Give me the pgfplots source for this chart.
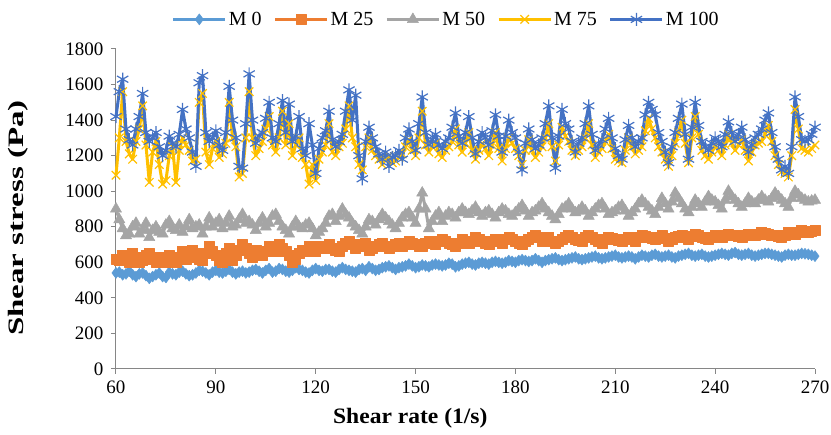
\documentclass[border=0pt]{standalone}
\usepackage{graphicx}
\usepackage{pgfplots}
\usepackage{pgfplotstable}
\pgfplotsset{compat=1.18}
\usepackage{fontspec}
\setmainfont{Liberation Serif}
\definecolor{cA}{HTML}{5B9BD5}
\definecolor{cB}{HTML}{ED7D31}
\definecolor{cC}{HTML}{A5A5A5}
\definecolor{cD}{HTML}{FFC000}
\definecolor{cE}{HTML}{4472C4}
\definecolor{axgray}{HTML}{868686}
\pgfplotstableread{
x m0 m25 m50 m75 m100
60 540 620 900 1090 1420
61 545 610 840 1300 1560
62 530 640 790 1560 1630
63 535 620 750 1280 1350
64 550 600 760 1210 1290
65 530 650 800 1180 1260
66 520 630 820 1280 1350
67 535 600 760 1350 1420
68 540 610 780 1480 1550
69 525 640 820 1260 1330
70 510 650 740 1050 1280
71 520 620 780 1220 1300
72 530 600 800 1280 1330
73 540 630 770 1150 1250
74 520 620 760 1040 1200
75 515 600 810 1060 1230
76 545 640 830 1200 1310
77 535 610 790 1250 1270
78 530 600 780 1050 1250
79 545 630 810 1230 1320
80 550 660 770 1300 1460
81 535 620 800 1260 1350
82 525 630 840 1230 1300
83 530 670 790 1170 1220
84 540 650 800 1180 1140
85 555 620 810 1500 1610
86 550 610 760 1550 1650
87 540 650 800 1220 1330
88 530 690 850 1150 1280
89 545 660 800 1240 1300
90 555 640 820 1280 1340
91 545 610 840 1190 1260
92 540 600 790 1210 1230
93 550 650 820 1270 1330
94 560 680 860 1500 1590
95 545 610 800 1300 1400
96 535 640 810 1250 1300
97 545 670 840 1080 1140
98 550 700 870 1100 1130
99 540 680 820 1300 1380
100 545 650 830 1560 1660
101 555 630 810 1300 1400
102 560 670 780 1200 1270
103 550 660 820 1240 1310
104 540 640 850 1280 1330
105 555 660 800 1350 1410
106 565 690 820 1420 1500
107 545 670 860 1260 1300
108 550 660 870 1220 1280
109 565 700 830 1300 1380
110 560 680 800 1450 1510
111 550 660 780 1260 1330
112 545 640 760 1380 1490
113 555 600 800 1200 1280
114 570 620 830 1260 1310
115 560 650 800 1300 1420
116 555 670 790 1190 1240
117 545 660 810 1150 1200
118 540 690 820 1040 1380
119 555 670 790 1150 1260
120 565 660 750 1060 1100
121 555 690 770 1180 1240
122 550 680 790 1220 1300
123 560 690 820 1260 1340
124 560 700 860 1380 1450
125 550 680 870 1220 1290
126 545 670 830 1200 1250
127 560 660 860 1250 1280
128 570 690 900 1270 1320
129 560 710 870 1350 1450
130 555 720 850 1480 1570
131 550 700 820 1300 1400
132 545 680 800 1250 1540
133 560 690 780 1150 1200
134 565 700 760 1120 1070
135 555 710 800 1250 1280
136 575 670 840 1300 1360
137 565 680 830 1230 1300
138 555 690 810 1200 1250
139 560 700 840 1180 1210
140 570 710 870 1150 1180
141 575 690 850 1180 1220
142 580 680 830 1200 1140
143 570 690 810 1160 1190
144 560 700 790 1170 1200
145 570 710 820 1190 1230
146 575 690 850 1210 1180
147 580 700 870 1250 1300
148 590 720 880 1290 1350
149 580 710 850 1230 1280
150 570 700 820 1200 1230
151 575 690 900 1300 1380
152 585 690 990 1450 1530
153 580 710 900 1260 1330
154 575 720 790 1220 1260
155 585 710 830 1250 1290
156 590 700 860 1270 1320
157 585 720 880 1210 1260
158 580 730 830 1190 1240
159 585 720 860 1230 1280
160 595 710 880 1250 1300
161 590 700 870 1280 1360
162 575 690 850 1350 1440
163 580 710 880 1260 1310
164 590 730 900 1220 1270
165 595 720 880 1270 1330
166 600 710 870 1330 1420
167 590 720 890 1230 1300
168 585 740 910 1180 1210
169 595 730 880 1230 1280
170 600 720 860 1270 1330
171 595 710 880 1240 1300
172 590 700 890 1200 1260
173 600 720 870 1260 1340
174 605 730 850 1330 1430
175 600 720 880 1240 1310
176 595 710 900 1170 1220
177 600 730 890 1240 1310
178 610 740 870 1300 1400
179 605 730 860 1270 1330
180 600 720 880 1240 1300
181 610 710 900 1200 1220
182 615 700 920 1150 1120
183 610 720 890 1230 1270
184 605 730 860 1290 1350
185 610 740 880 1230 1290
186 620 750 890 1190 1240
187 610 740 910 1220 1260
188 600 720 930 1250 1300
189 610 730 900 1300 1380
190 615 740 880 1380 1480
191 620 720 860 1250 1300
192 625 710 840 1170 1130
193 615 720 870 1260 1310
194 610 730 900 1360 1460
195 615 740 910 1310 1380
196 620 750 930 1280 1350
197 625 740 900 1230 1280
198 630 730 880 1200 1220
199 620 725 890 1230 1270
200 615 720 910 1250 1300
201 620 740 890 1300 1380
202 625 750 860 1380 1480
203 630 740 880 1260 1320
204 635 730 900 1190 1230
205 625 720 920 1220 1260
206 620 710 930 1240 1290
207 625 730 900 1280 1350
208 630 740 870 1320 1410
209 635 735 880 1240 1300
210 640 730 890 1180 1240
211 630 725 910 1170 1200
212 625 720 920 1160 1180
213 630 730 890 1230 1290
214 635 740 860 1300 1370
215 630 730 880 1250 1300
216 620 720 900 1210 1250
217 630 740 930 1230 1280
218 640 750 950 1250 1300
219 635 745 930 1340 1430
220 630 740 910 1410 1500
221 640 735 890 1350 1460
222 645 730 870 1300 1430
223 635 740 910 1250 1330
224 630 750 960 1220 1280
225 635 735 930 1180 1220
226 640 720 900 1140 1160
227 630 730 940 1200 1250
228 625 740 990 1270 1330
229 635 745 960 1330 1410
230 640 750 930 1400 1490
231 645 740 900 1270 1320
232 650 730 880 1160 1180
233 640 745 910 1300 1360
234 635 760 950 1420 1500
235 640 750 930 1320 1370
236 645 740 910 1230 1280
237 635 735 940 1200 1250
238 630 730 970 1180 1230
239 635 740 950 1220 1270
240 640 750 940 1260 1300
241 645 745 920 1230 1280
242 650 740 900 1200 1250
243 645 750 950 1260 1320
244 640 760 1000 1320 1390
245 650 755 970 1270 1330
246 655 750 950 1230 1280
247 645 745 930 1260 1320
248 640 740 910 1290 1360
249 645 750 930 1230 1290
250 650 760 960 1170 1220
251 640 755 940 1220 1260
252 635 750 930 1260 1300
253 640 760 950 1270 1320
254 645 770 970 1280 1350
255 650 765 950 1320 1400
256 650 760 940 1370 1440
257 645 755 960 1280 1330
258 640 750 990 1200 1250
259 635 745 970 1150 1180
260 630 740 950 1110 1120
261 640 755 930 1100 1140
262 645 770 910 1080 1100
263 640 765 960 1200 1250
264 640 760 1000 1460 1530
265 645 770 980 1350 1420
266 650 780 960 1240 1290
267 648 775 950 1230 1280
268 645 770 940 1220 1290
269 640 775 945 1240 1320
270 635 780 950 1260 1360
}\datatable
\begin{document}
\begin{tikzpicture}
\path[use as bounding box] (0,0) rectangle (831pt,435pt);
\begin{axis}[
  at={(116pt,66pt)}, anchor=south west,
  scale only axis, width=699pt, height=320pt,
  xmin=60, xmax=270, ymin=0, ymax=1800,
  xtick={60,90,...,270}, ytick={0,200,...,1800},
  axis x line=bottom, axis y line=left,
  axis line style={axgray, line width=1pt, -},
  tick style={axgray, line width=1pt},
  tick align=outside, major tick length=5pt,
  /pgf/number format/assume math mode=true,
  /pgf/number format/set thousands separator={},
  ticklabel style={font=\fontsize{19}{21}\selectfont},
  xticklabel style={yshift=-3pt},
  yticklabel style={xshift=-4pt},
  xlabel={\scalebox{1.07}[1]{\textbf{Shear rate (1/s)}}},
  ylabel={\scalebox{1.5}[1]{\textbf{Shear stress (Pa)}}},
  every axis x label/.style={at={(axis description cs:0.421,-0.153)}, anchor=center, font=\fontsize{22}{24}\selectfont},
  every axis y label/.style={at={(axis description cs:-0.1402,0.472)}, anchor=center, rotate=90, font=\fontsize{22}{24}\selectfont},
  clip=false,
  legend columns=5,
  legend style={draw=none, at={(0.4725,1.0)}, anchor=south, yshift=20pt, inner sep=0pt,
    font=\fontsize{20}{22}\selectfont, /tikz/every even column/.append style={column sep=10pt}},
  legend image code/.code={\draw[mark repeat=2,mark phase=2] plot coordinates {(0pt,0pt) (26pt,0pt) (52pt,0pt)};},
  every axis plot/.append style={line width=3pt, line join=round},
]
\addplot[cA, mark=diamond*, mark size=5.5pt, mark options={solid, line width=0.5pt}] table[x=x,y=m0] {\datatable};
\addlegendentry{M 0}
\addplot[cB, mark=square*, mark size=5pt, mark options={solid, line width=0.5pt}] table[x=x,y=m25] {\datatable};
\addlegendentry{M 25}
\addplot[cC, mark=triangle*, mark size=6.5pt, mark options={solid, line width=0.5pt}] table[x=x,y=m50] {\datatable};
\addlegendentry{M 50}
\addplot[cD, mark=x, mark size=6pt, mark options={solid, line width=1.2pt}] table[x=x,y=m75] {\datatable};
\addlegendentry{M 75}
\addplot[cE, mark=asterisk, mark size=6.5pt, mark options={solid, line width=1.2pt}] table[x=x,y=m100] {\datatable};
\addlegendentry{M 100}
\end{axis}
\end{tikzpicture}
\end{document}
